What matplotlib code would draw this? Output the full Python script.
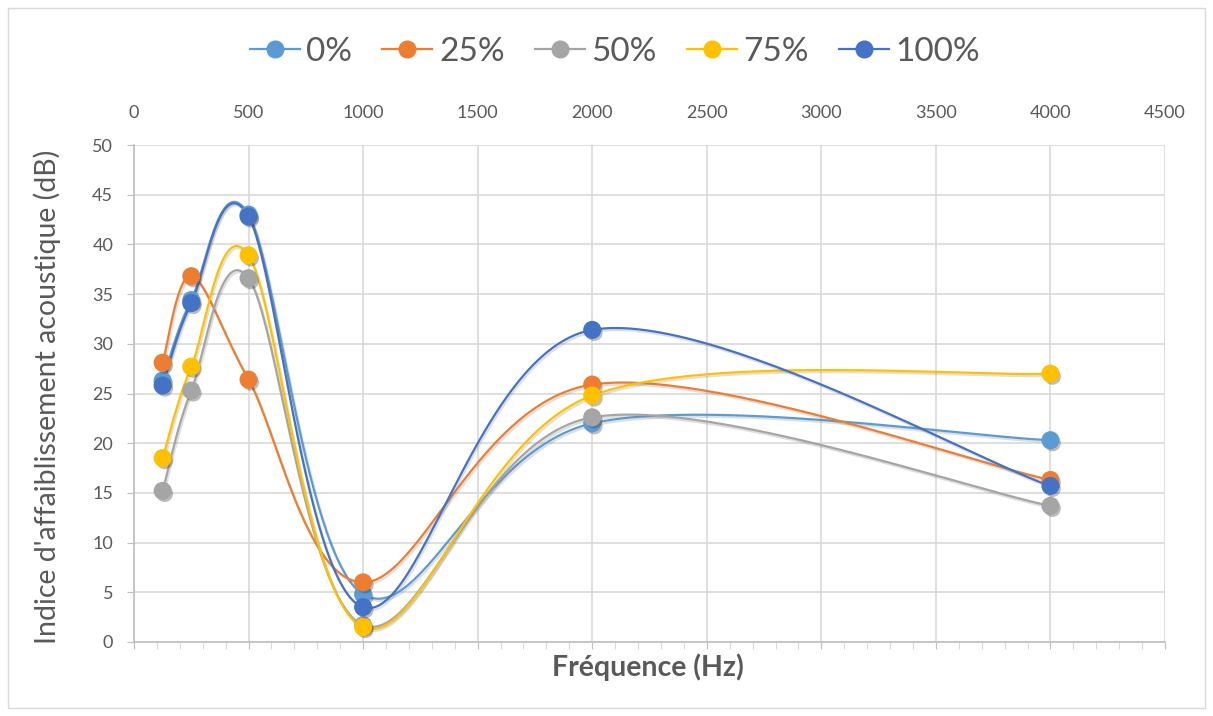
import numpy as np
import matplotlib.pyplot as plt
import matplotlib.patheffects as pe
from matplotlib.lines import Line2D
from matplotlib.patches import Rectangle
from matplotlib.ticker import MultipleLocator

plt.rcParams['font.family'] = ['Lato', 'DejaVu Sans']

# Frequencies (Hz) and acoustic insulation index (dB) for each mix ratio
freq = [125, 250, 500, 1000, 2000, 4000]
s0 = [26.3, 34.4, 43.0, 4.8, 22.0, 20.3]
s25 = [28.1, 36.8, 26.4, 6.0, 25.9, 16.3]
s50 = [15.2, 25.3, 36.6, 1.7, 22.6, 13.7]
s75 = [18.5, 27.7, 38.9, 1.5, 24.8, 27.0]
s100 = [25.8, 34.1, 42.8, 3.5, 31.4, 15.7]
labels = ['0%', '25%', '50%', '75%', '100%']
colors = ['#5B9BD5', '#ED7D31', '#A5A5A5', '#FFC000', '#4472C4']
series = [s0, s25, s50, s75, s100]

TEXT = '#595959'
GRID = '#D9D9D9'


def smooth(x, y, n=60):
    """Catmull-Rom style cubic Bezier through the points (spreadsheet-like smoothing)."""
    p = np.column_stack([x, y]).astype(float)
    q = np.vstack([p[0], p, p[-1]])
    t = np.linspace(0, 1, n)[:, None]
    parts = []
    for i in range(len(p) - 1):
        p0, p1, p2, p3 = q[i], q[i + 1], q[i + 2], q[i + 3]
        c1 = p1 + (p2 - p0) / 6.0
        c2 = p2 - (p3 - p1) / 6.0
        b = (1 - t) ** 3 * p1 + 3 * (1 - t) ** 2 * t * c1 + 3 * (1 - t) * t ** 2 * c2 + t ** 3 * p2
        parts.append(b if i == 0 else b[1:])
    c = np.vstack(parts)
    return c[:, 0], c[:, 1]


fig = plt.figure(figsize=(12.13, 7.16), dpi=100)
fig.patches.append(Rectangle((8 / 1213, 8 / 716), 1197 / 1213, 700 / 716,
                             transform=fig.transFigure, fill=False,
                             edgecolor=GRID, linewidth=1))

ax = fig.add_axes([134 / 1213, 1 - 642 / 716, 1031 / 1213, 497 / 716])
ax.set_xlim(0, 4500)
ax.set_ylim(0, 50)

shadow = [pe.SimplePatchShadow(offset=(1.5, -2), shadow_rgbFace='#404040', alpha=0.35), pe.Normal()]

for vals, col, lab in zip(series, colors, labels):
    sx, sy = smooth(freq, vals)
    ax.plot(sx, sy, color=col, lw=1.6, zorder=3,
            path_effects=[pe.SimpleLineShadow(offset=(1, -1.5), shadow_color='#808080', alpha=0.25), pe.Normal()])
for vals, col, lab in zip(series, colors, labels):
    ax.plot(freq, vals, linestyle='none', marker='o', markersize=12,
            markerfacecolor=col, markeredgecolor=col, zorder=4, path_effects=shadow)

# Top axis with major labels, bottom axis with minor ticks
ax.xaxis.set_major_locator(MultipleLocator(500))
ax.xaxis.set_minor_locator(MultipleLocator(100))
ax.yaxis.set_major_locator(MultipleLocator(5))
ax.tick_params(axis='x', which='major', top=False, labeltop=True, bottom=True, labelbottom=False,
               direction='out', length=5, color='#BFBFBF', labelsize=13, labelcolor=TEXT, pad=12)
ax.tick_params(axis='x', which='minor', top=False, bottom=True, direction='out', length=5, color='#D0D0D0')
ax.tick_params(axis='y', which='major', direction='out', length=5, color='#BFBFBF',
               labelsize=13, labelcolor=TEXT, pad=10)

ax.grid(True, which='major', color=GRID, lw=1.2, zorder=0)
ax.set_axisbelow(True)
for side in ['top', 'right']:
    ax.spines[side].set_visible(False)
for side in ['left', 'bottom']:
    ax.spines[side].set_color('#BFBFBF')
    ax.spines[side].set_linewidth(1.2)

fig.text(648 / 1213, 1 - 667 / 716, 'Fréquence (Hz)', ha='center', va='center',
         fontsize=20.5, fontweight='bold', color=TEXT)
fig.text(47 / 1213, 1 - 397 / 716, "Indice d'affaiblissement acoustique (dB)", ha='center', va='center',
         rotation=90, fontsize=20.5, color=TEXT)

handles = [Line2D([0], [0], color=c, lw=1.6, marker='o', markersize=12,
                  markerfacecolor=c, markeredgecolor=c) for c in colors]
fig.legend(handles, labels, loc='center', bbox_to_anchor=(615 / 1213, 1 - 52 / 716), ncol=5,
           frameon=False, fontsize=24, labelcolor=TEXT, handlelength=1.5, handletextpad=0.2,
           columnspacing=0.9)

fig.savefig('out.png', dpi=100)
